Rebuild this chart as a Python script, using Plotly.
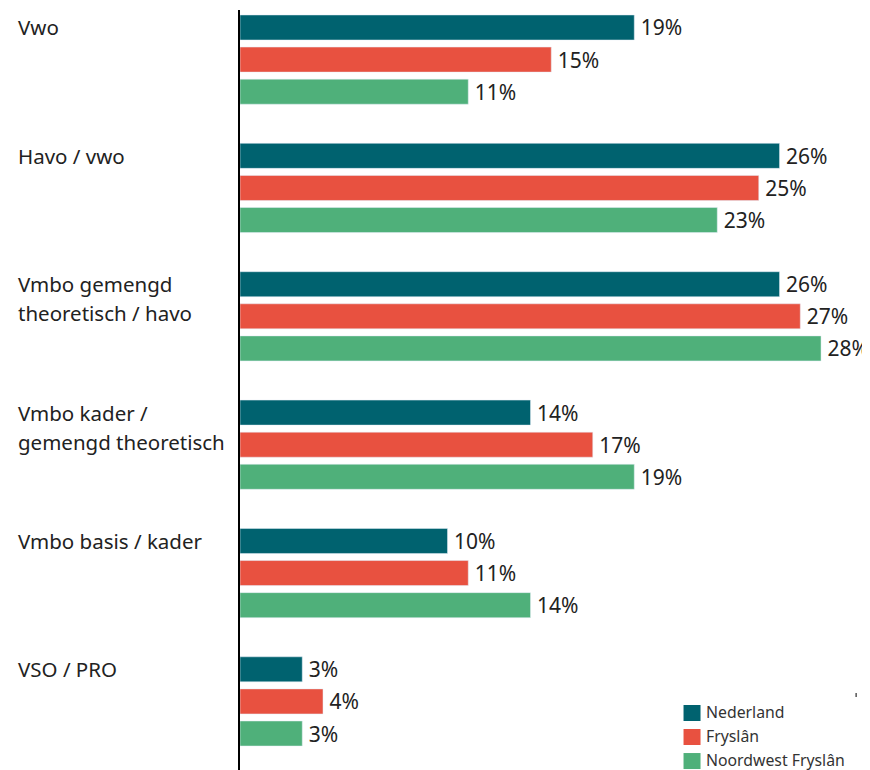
import plotly.graph_objects as go

categories = ["Vwo", "Havo / vwo", "Vmbo gemengd<br>theoretisch / havo",
              "Vmbo kader /<br>gemengd theoretisch", "Vmbo basis / kader", "VSO / PRO"]
series_names = ["Nederland", "Fryslân", "Noordwest Fryslân"]
nederland = [19, 26, 26, 14, 10, 3]
fryslan = [15, 25, 27, 17, 11, 4]
noordwest = [11, 23, 28, 19, 14, 3]
colors = ["#00626F", "#E85140", "#4FB07A"]

FONT = "Noto Sans"
fig = go.Figure()
for i, (name, vals, col) in enumerate(zip(series_names, [nederland, fryslan, noordwest], colors)):
    ys = [g * 4 + i for g in range(len(categories))]
    fig.add_trace(go.Bar(
        x=vals, y=ys, orientation="h", width=0.78, marker_color=col, name=name,
        text=[f"\u2009{v}%" for v in vals], textposition="outside", cliponaxis=False,
        constraintext="none", textfont=dict(size=21, color="#222222", family=FONT),
        showlegend=False, hoverinfo="skip"))

annotations = []
for g, cat in enumerate(categories):
    for j, line in enumerate(cat.split("<br>")):
        annotations.append(dict(
            text=line, xref="paper", yref="y", x=-0.3556, y=g * 4,
            xanchor="left", yanchor="middle", yshift=-29 * j, showarrow=False,
            font=dict(size=20.5, color="#222222", family=FONT)))

# manual legend (plot area: 630 x 760 px)
shapes = []
leg_y = [0.075, 0.0434, 0.0118]
for name, col, yy in zip(series_names, colors, leg_y):
    shapes.append(dict(type="rect", xref="paper", yref="paper",
                       xsizemode="pixel", ysizemode="pixel",
                       xanchor=0.7175, yanchor=yy, x0=-8.5, x1=8.5, y0=-8, y1=8,
                       fillcolor=col, line=dict(width=0)))
    annotations.append(dict(text=name, xref="paper", yref="paper", x=0.7385, y=yy,
                            xanchor="left", yanchor="middle", showarrow=False,
                            borderpad=0, yshift=1,
                            font=dict(size=15.8, color="#333333", family=FONT)))
shapes.append(dict(type="line", xref="paper", yref="paper", x0=0.978, x1=0.978,
                   y0=0.0960, y1=0.1013, line=dict(color="#555555", width=1.5)))

fig.update_layout(
    width=862, height=762,
    margin=dict(l=232, r=0, t=2, b=0),
    plot_bgcolor="white", paper_bgcolor="white",
    barmode="overlay",
    xaxis=dict(range=[0, 30.36], showgrid=False, zeroline=False, showticklabels=False,
               showline=False, fixedrange=True),
    yaxis=dict(range=[23.137, -0.545], showgrid=False, zeroline=False, showticklabels=False,
               showline=True, linecolor="black", linewidth=1.5, fixedrange=True),
    annotations=annotations,
    shapes=shapes,
    showlegend=False,
)
fig.write_html("out.html")
